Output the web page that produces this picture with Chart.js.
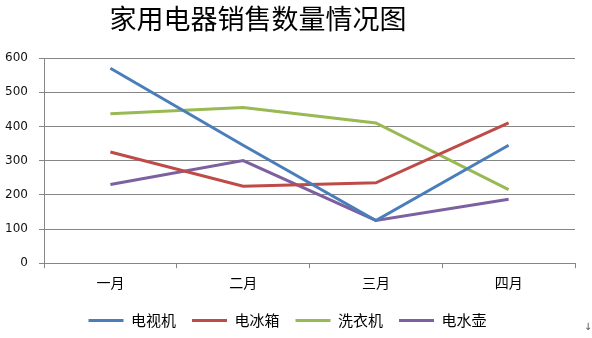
<!DOCTYPE html>
<html>
<head>
<meta charset="utf-8">
<script src="https://cdn.jsdelivr.net/npm/chart.js@4/dist/chart.umd.min.js"></script>
<style>
  html, body { margin: 0; padding: 0; background: #fff; }
  #wrap { width: 592px; height: 338px; position: relative; }
</style>
</head>
<body>
<div id="wrap"><canvas id="c"></canvas></div>
<script>
// 月份与各类家电销售数量
const months = ['一月', '二月', '三月', '四月'];
const tvSales = [570, 345, 125, 345];
const fridgeSales = [325, 225, 235, 410];
const washerSales = [437, 455, 410, 215];
const kettleSales = [230, 300, 125, 187];
const yTicks = [0, 100, 200, 300, 400, 500, 600];

const chartTitle = '家用电器销售数量情况图';
const cjk = '"Noto Sans CJK SC", "Noto Sans", sans-serif';

// 标题与角落的段落标记
const decorPlugin = {
  id: 'decor',
  afterDraw(chart) {
    const ctx = chart.ctx;
    ctx.save();
    ctx.fillStyle = '#000';
    ctx.font = '27px ' + cjk;
    ctx.textAlign = 'center';
    ctx.textBaseline = 'middle';
    ctx.fillText(chartTitle, 258, 19);
    ctx.fillStyle = '#555';
    ctx.font = '10px "DejaVu Sans", sans-serif';
    ctx.fillText('↓', 588, 327);
    ctx.restore();
  }
};

function series(label, data, color) {
  return {
    label, data,
    borderColor: color,
    backgroundColor: color,
    borderWidth: 3,
    pointRadius: 0,
    pointHoverRadius: 0,
    tension: 0,
    fill: false
  };
}

new Chart(document.getElementById('c'), {
  type: 'line',
  data: {
    labels: months,
    datasets: [
      series('电视机', tvSales, '#4A7EBB'),
      series('电冰箱', fridgeSales, '#BE4B48'),
      series('洗衣机', washerSales, '#98B954'),
      series('电水壶', kettleSales, '#7D60A0')
    ]
  },
  options: {
    responsive: true,
    maintainAspectRatio: false,
    animation: false,
    layout: { padding: { top: 58, right: 17, left: 0, bottom: 0 } },
    plugins: {
      title: { display: false },
      tooltip: { enabled: false },
      legend: {
        position: 'bottom',
        labels: {
          font: { family: cjk, size: 15 },
          color: '#000',
          boxWidth: 35,
          boxHeight: 3,
          padding: 16,
          generateLabels(chart) {
            return chart.data.datasets.map((d, i) => ({
              text: d.label,
              fillStyle: d.borderColor,
              strokeStyle: d.borderColor,
              lineWidth: 0,
              hidden: false,
              datasetIndex: i
            }));
          }
        }
      }
    },
    scales: {
      x: {
        offset: true,
        border: { color: '#868686', width: 1 },
        grid: {
          offset: true,
          drawOnChartArea: false,
          drawTicks: true,
          tickLength: 5,
          color: '#868686'
        },
        ticks: {
          font: { family: cjk, size: 14 },
          color: '#000',
          padding: 6
        }
      },
      y: {
        min: 0,
        max: 600,
        afterBuildTicks(scale) { scale.ticks = yTicks.map(v => ({ value: v })); },
        afterFit(scale) { scale.width = 44; },
        border: { color: '#868686', width: 1 },
        grid: {
          color: '#868686',
          lineWidth: 1,
          tickLength: 5
        },
        ticks: {
          font: { family: '"DejaVu Sans", sans-serif', size: 12 },
          color: '#111',
          padding: 11
        }
      }
    }
  },
  plugins: [decorPlugin]
});
</script>
</body>
</html>
